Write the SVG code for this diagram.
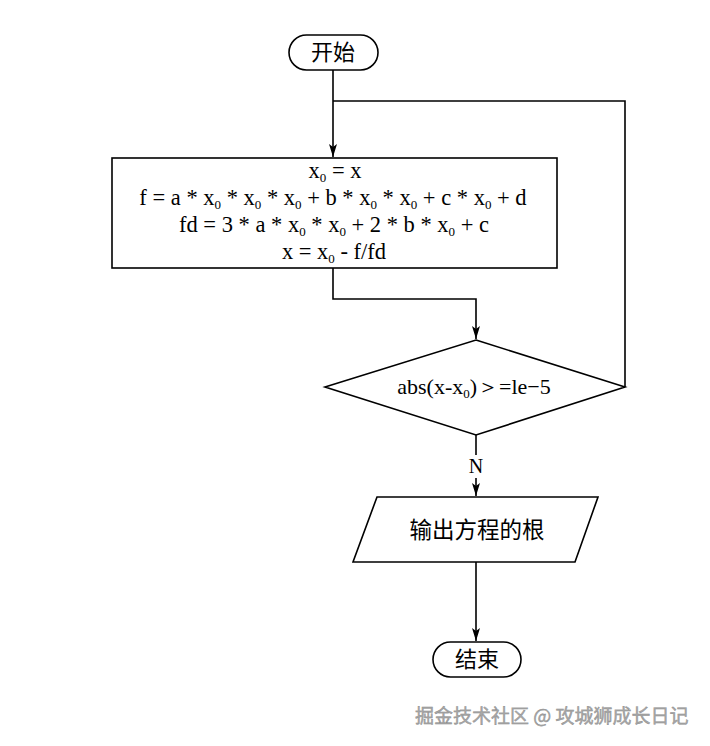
<svg xmlns="http://www.w3.org/2000/svg" width="710" height="746" viewBox="0 0 710 746">
<defs>
<marker id="ah" markerWidth="14" markerHeight="8" refX="13" refY="4" orient="auto" markerUnits="userSpaceOnUse" viewBox="0 0 14 8">
<path d="M0,0 L13,4 L0,8 L3,4 Z" fill="#000"/>
</marker>
</defs>
<style>
.s{fill:#fff;stroke:#000;stroke-width:1.6}
.c{fill:none;stroke:#000;stroke-width:1.6}
.m{font-family:"Liberation Serif","Times New Roman",serif;font-size:22.5px;fill:#000;text-anchor:middle}
.sub{font-size:13px}
.z{font-family:"Noto Sans CJK SC","Noto Sans",sans-serif;font-size:22px;fill:#000;text-anchor:middle}
.w{font-family:"Noto Sans CJK SC","Noto Sans",sans-serif;font-size:19px;fill:#a8a8a8;stroke:#8a8a8a;stroke-width:0.4}
</style>
<rect width="710" height="746" fill="#fff"/>
<g id="connectors">
<path class="c" d="M333,70 V157" marker-end="url(#ah)"/>
<path class="c" d="M333,268 V299 H476 V339" marker-end="url(#ah)"/>
<path class="c" d="M625,387 V101 H333"/>
<path class="c" d="M476,435 V455"/>
<path class="c" d="M476,478 V496" marker-end="url(#ah)"/>
<path class="c" d="M476,562 V641" marker-end="url(#ah)"/>
<text class="m" x="476" y="473" style="font-size:20px">N</text>
</g>
<g id="start">
<rect class="s" x="289" y="35" width="89" height="35" rx="17.5"/>
<text class="z" x="333" y="60">开始</text>
</g>
<g id="process">
<rect class="s" x="112" y="158" width="445" height="110"/>
<text class="m" x="335" y="178">x<tspan class="sub" dy="4">0</tspan><tspan dy="-4"> = x</tspan></text>
<text class="m" x="333" y="205">f = a * x<tspan class="sub" dy="4">0</tspan><tspan dy="-4"> * x</tspan><tspan class="sub" dy="4">0</tspan><tspan dy="-4"> * x</tspan><tspan class="sub" dy="4">0</tspan><tspan dy="-4"> + b * x</tspan><tspan class="sub" dy="4">0</tspan><tspan dy="-4"> * x</tspan><tspan class="sub" dy="4">0</tspan><tspan dy="-4"> + c * x</tspan><tspan class="sub" dy="4">0</tspan><tspan dy="-4"> + d</tspan></text>
<text class="m" x="334" y="232">fd = 3 * a * x<tspan class="sub" dy="4">0</tspan><tspan dy="-4"> * x</tspan><tspan class="sub" dy="4">0</tspan><tspan dy="-4"> + 2 * b * x</tspan><tspan class="sub" dy="4">0</tspan><tspan dy="-4"> + c</tspan></text>
<text class="m" x="334" y="259">x = x<tspan class="sub" dy="4">0</tspan><tspan dy="-4"> - f/fd</tspan></text>
</g>
<g id="decision">
<polygon class="s" points="476,340 625,387 476,435 325,387"/>
<text class="m" x="474" y="394" style="font-size:22px">abs(x-x<tspan class="sub" dy="4">0</tspan><tspan dy="-4">)＞=le−5</tspan></text>
</g>
<g id="output">
<polygon class="s" points="377,497 598,497 575,562 353,562"/>
<text class="z" x="477" y="538" style="font-size:22.5px">输出方程的根</text>
</g>
<g id="end">
<rect class="s" x="433" y="642" width="88" height="35" rx="17.5"/>
<text class="z" x="477" y="667">结束</text>
</g>
<text class="w" x="415" y="723">掘金技术社区 @ 攻城狮成长日记</text>
</svg>
